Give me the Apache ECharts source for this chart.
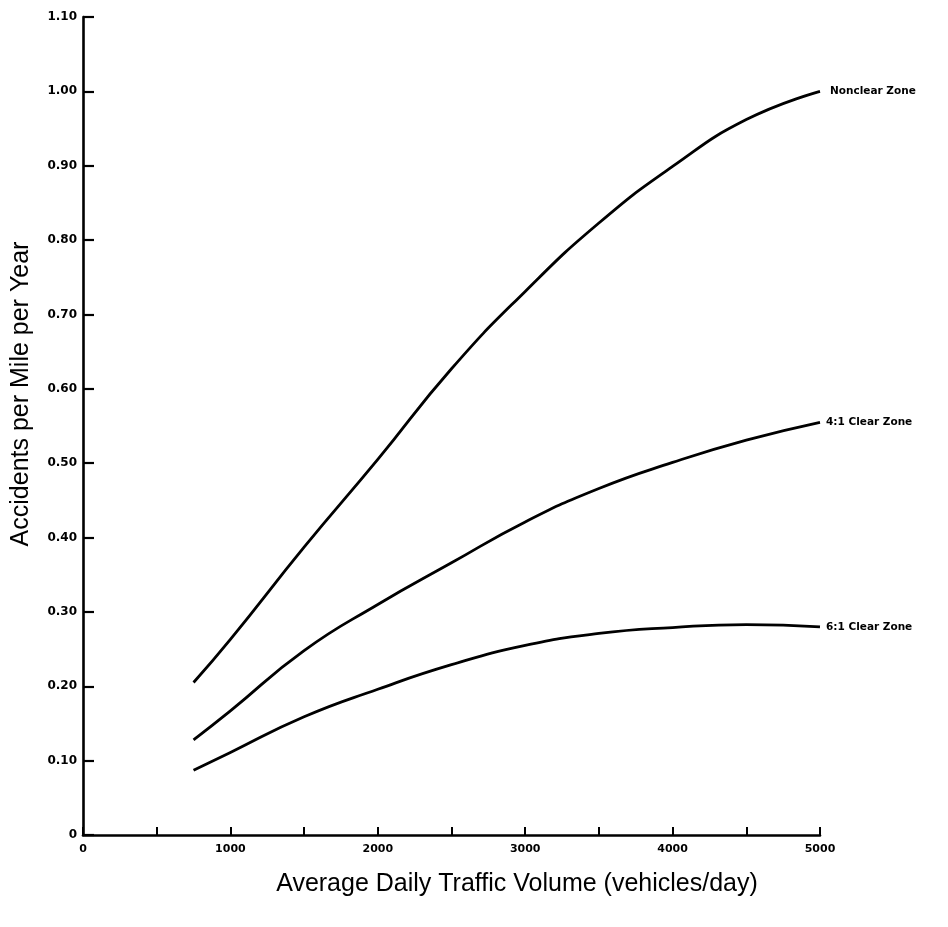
<!DOCTYPE html>
<html>
<head>
<meta charset="utf-8">
<script src="https://cdn.jsdelivr.net/npm/echarts@6/dist/echarts.min.js"></script>
<style>
html,body{margin:0;padding:0;background:#fff;}
#chart{width:948px;height:927px;}
</style>
</head>
<body>
<div id="chart"></div>
<script>
// Data
const traffic = [750, 1000, 1500, 2000, 2500, 3000, 3500, 4000, 4500, 5000];
const nonclear = [0.205, 0.263, 0.387, 0.505, 0.627, 0.731, 0.823, 0.899, 0.962, 1.000];
const clear41 = [0.128, 0.167, 0.248, 0.310, 0.366, 0.421, 0.466, 0.501, 0.531, 0.555];
const clear61 = [0.087, 0.111, 0.159, 0.196, 0.229, 0.255, 0.271, 0.279, 0.283, 0.280];
const seriesNames = ['Nonclear Zone', '4:1 Clear Zone', '6:1 Clear Zone'];
const xTitle = 'Average Daily Traffic Volume (vehicles/day)';
const yTitle = 'Accidents per Mile per Year';

const pairs = arr => traffic.map((x, i) => [x, arr[i]]);
const labelFont = '"DejaVu Sans", sans-serif';

function makeSeries(name, arr, dist) {
  return {
    name: name,
    type: 'line',
    data: pairs(arr),
    smooth: 0.5,
    showSymbol: false,
    symbol: 'none',
    lineStyle: { color: '#000', width: 2.8 },
    endLabel: {
      show: true,
      formatter: '{a}',
      color: '#000',
      fontSize: 10.5,
      fontWeight: 'bold',
      fontFamily: labelFont,
      distance: dist
    },
    emphasis: { disabled: true },
    silent: true
  };
}

const chart = echarts.init(document.getElementById('chart'));
chart.setOption({
  animation: false,
  backgroundColor: '#fff',
  grid: { left: 83, right: 128, top: 17, bottom: 92, containLabel: false },
  xAxis: {
    type: 'value',
    min: 0, max: 5000, interval: 500,
    axisLine: { show: true, onZero: false, lineStyle: { color: '#000', width: 2.6 } },
    axisTick: { show: true, inside: true, length: 8, lineStyle: { color: '#000', width: 2 } },
    splitLine: { show: false },
    axisLabel: {
      margin: 9,
      color: '#000',
      fontSize: 11,
      fontWeight: 'bold',
      fontFamily: labelFont,
      showMinLabel: true,
      showMaxLabel: true,
      formatter: v => (Math.round(v) % 1000 === 0 ? String(Math.round(v)) : '')
    }
  },
  yAxis: {
    type: 'value',
    min: 0, max: 1.1, interval: 0.1,
    axisLine: { show: true, onZero: false, lineStyle: { color: '#000', width: 2.6 } },
    axisTick: { show: true, inside: true, length: 11, lineStyle: { color: '#000', width: 2.2 } },
    splitLine: { show: false },
    axisLabel: {
      margin: 6,
      color: '#000',
      fontSize: 12,
      fontWeight: 'bold',
      fontFamily: labelFont,
      showMinLabel: true,
      showMaxLabel: true,
      formatter: v => (Math.abs(v) < 1e-9 ? '0' : v.toFixed(2))
    }
  },
  series: [
    makeSeries(seriesNames[0], nonclear, 10),
    makeSeries(seriesNames[1], clear41, 6),
    makeSeries(seriesNames[2], clear61, 6)
  ],
  graphic: [
    {
      type: 'text',
      x: 517, y: 884,
      style: {
        text: xTitle,
        align: 'center',
        verticalAlign: 'middle',
        font: '25px "Liberation Sans", Arial, sans-serif',
        fill: '#000'
      }
    },
    {
      type: 'text',
      x: 21, y: 394,
      rotation: Math.PI / 2,
      style: {
        text: yTitle,
        align: 'center',
        verticalAlign: 'middle',
        font: '25px "Liberation Sans", Arial, sans-serif',
        fill: '#000'
      }
    }
  ]
});
</script>
</body>
</html>
